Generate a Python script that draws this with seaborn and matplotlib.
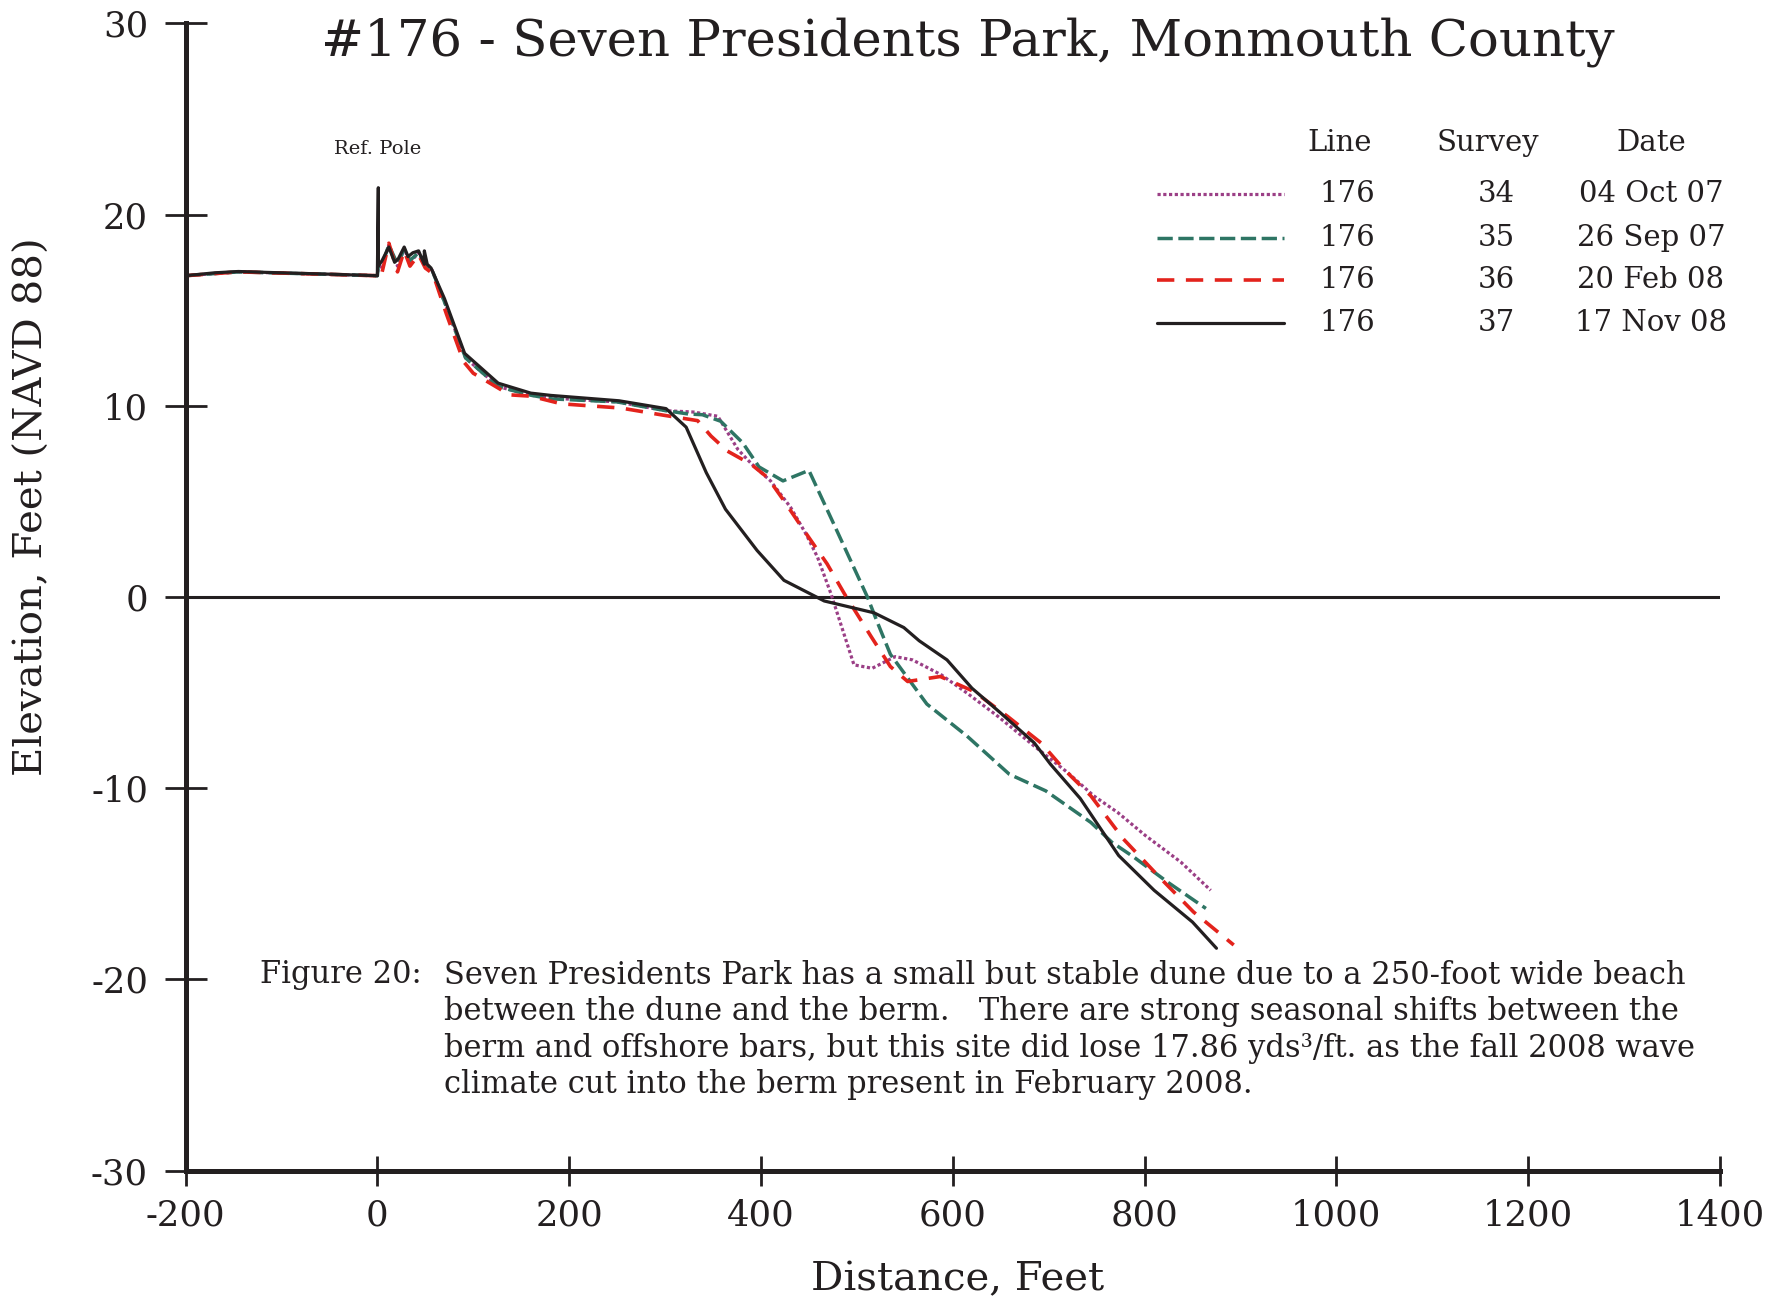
import numpy as np
import pandas as pd
import seaborn as sns
import matplotlib.pyplot as plt
from matplotlib.lines import Line2D

# profile data (distance ft, elevation ft NAVD88)
x_34 = [-200, -145, 0, 1, 5, 12, 21, 28, 34, 43, 50, 57, 71, 92, 126, 160, 181, 250, 301,
        330, 355, 376, 390, 410, 431, 447, 459, 473, 497, 516, 540, 558, 588, 615, 647,
        685, 720, 747, 772, 801, 838, 869]
y_34 = [16.8, 17.0, 16.8, 17.2, 17.3, 18.4, 17.3, 18.2, 17.5, 18.0, 17.4, 17.1, 15.3, 12.5,
        11.0, 10.55, 10.4, 10.2, 9.74, 9.67, 9.45, 7.71, 6.97, 6.07, 4.68, 3.29, 2.08, 0.17,
        -3.55, -3.73, -3.12, -3.29, -4.07, -5.03, -6.24, -7.8, -9.19, -10.4, -11.27, -12.48,
        -13.87, -15.34]

x_35 = [-200, -145, 0, 1, 5, 12, 21, 28, 34, 43, 50, 57, 71, 92, 126, 160, 181, 250, 301,
        324, 339, 358, 381, 398, 423, 450, 476, 511, 522, 535, 573, 615, 659, 697, 744, 766,
        789, 824, 864]
y_35 = [16.8, 17.0, 16.8, 17.3, 17.4, 18.4, 17.4, 18.2, 17.6, 18.0, 17.4, 17.1, 15.3, 12.5,
        11.0, 10.55, 10.36, 10.2, 9.74, 9.57, 9.53, 9.19, 8.06, 6.8, 6.07, 6.62, 3.81, 0.0,
        -1.4, -3.0, -5.6, -7.28, -9.27, -10.14, -11.79, -12.83, -13.61, -14.91, -16.29]

x_36 = [-200, -145, 0, 1, 5, 12, 21, 28, 34, 43, 50, 58, 72, 90, 100, 138, 160, 192, 254,
        299, 334, 348, 365, 390, 407, 424, 445, 469, 487, 515, 535, 553, 587, 622, 657, 692,
        716, 744, 778, 817, 851, 893]
y_36 = [16.8, 17.0, 16.8, 17.1, 17.0, 18.5, 17.0, 18.1, 17.3, 17.9, 17.2, 16.9, 14.8, 12.3,
        11.7, 10.57, 10.5, 10.1, 9.88, 9.5, 9.22, 8.41, 7.63, 6.93, 6.24, 5.03, 3.47, 1.73,
        0.17, -2.08, -3.64, -4.42, -4.16, -4.94, -6.24, -7.63, -9.01, -10.4, -12.66, -14.73,
        -16.47, -18.2]

x_37 = [-200, -170, -145, -100, -50, 0, 1, 1, 5, 12, 18, 22, 28, 32, 37, 43, 49, 49, 52, 56,
        70, 91, 126, 160, 181, 252, 301, 322, 343, 363, 396, 424, 466, 518, 549, 565, 594,
        620, 650, 685, 702, 733, 773, 810, 850, 875]
y_37 = [16.8, 16.95, 17.02, 16.95, 16.88, 16.8, 21.4, 17.3, 17.6, 18.3, 17.5, 17.7, 18.3,
        17.8, 18.0, 18.1, 17.4, 18.1, 17.4, 17.2, 15.6, 12.74, 11.18, 10.66, 10.54, 10.26,
        9.85, 8.88, 6.5, 4.59, 2.43, 0.87, -0.21, -0.83, -1.6, -2.29, -3.29, -4.77, -6.07,
        -7.63, -8.75, -10.54, -13.52, -15.34, -17.0, -18.37]

surveys = ["34", "35", "36", "37"]
dates = ["04 Oct 07", "26 Sep 07", "20 Feb 08", "17 Nov 08"]
line_no = "176"

caption = [
    "Seven Presidents Park has a small but stable dune due to a 250-foot wide beach",
    "between the dune and the berm.   There are strong seasonal shifts between the",
    "berm and offshore bars, but this site did lose 17.86 yds\u00b3/ft. as the fall 2008 wave",
    "climate cut into the berm present in February 2008.",
]

profiles = pd.concat(
    [
        pd.DataFrame({"distance": x, "elevation": y, "survey": s})
        for x, y, s in zip([x_34, x_35, x_36, x_37], [y_34, y_35, y_36, y_37], surveys)
    ],
    ignore_index=True,
)

colors = {"34": "#9b3f86", "35": "#2e7564", "36": "#e3231c", "37": "#231f20"}
dash_map = {"34": (1.0, 0.8), "35": (4.4, 1.6), "36": (4.8, 3.2), "37": ""}
widths = {"34": 2.3, "35": 2.5, "36": 2.6, "37": 2.3}
ink = "#231f20"

sns.set_style("ticks")
plt.rcParams["font.family"] = ["DejaVu Serif"]
plt.rcParams["axes.unicode_minus"] = False

fig = plt.figure(figsize=(17.86, 13.01), dpi=100)
ax = fig.add_axes([0.1039, 0.1002, 0.9630 - 0.1039, 0.9821 - 0.1002])

ax.axhline(0, color=ink, lw=2.2, zorder=1)

sns.lineplot(
    data=profiles,
    x="distance",
    y="elevation",
    hue="survey",
    style="survey",
    palette=colors,
    dashes=dash_map,
    sort=False,
    estimator=None,
    linewidth=2.3,
    legend=False,
    ax=ax,
)
# seaborn draws the surveys in order, so match widths line by line
for line, s in zip(ax.lines[1:], surveys):
    line.set_linewidth(widths[s])

ax.set_xlim(-200, 1400)
ax.set_ylim(-30, 30)
ax.set_xticks(np.arange(-200, 1401, 200))
ax.set_yticks(np.arange(-30, 31, 10))
sns.despine(ax=ax)
for side in ["left", "bottom"]:
    ax.spines[side].set_linewidth(3.6)
    ax.spines[side].set_color(ink)
ax.tick_params(axis="y", direction="inout", length=30, width=2, pad=12,
               labelsize=25.5, colors=ink)
ax.tick_params(axis="x", direction="inout", length=22, width=2, pad=9,
               labelsize=25.5, colors=ink)

ax.set_xlabel("Distance, Feet", fontsize=29, color=ink)
ax.xaxis.set_label_coords(0.503, -0.079)
ax.set_ylabel("Elevation, Feet (NAVD 88)", fontsize=29, color=ink, va="center")
ax.yaxis.set_label_coords(-0.100, 0.579)

fig.text(0.542, 0.968, "#176 - Seven Presidents Park, Monmouth County",
         fontsize=37, ha="center", va="center", color=ink)
ax.text(0, 23.4, "Ref. Pole", fontsize=14, ha="center", va="center", color=ink)

# legend laid out as a small table
ax.text(0.752, 0.896, "Line", transform=ax.transAxes, fontsize=21, ha="center", va="center", color=ink)
ax.text(0.849, 0.896, "Survey", transform=ax.transAxes, fontsize=21, ha="center", va="center", color=ink)
ax.text(0.955, 0.896, "Date", transform=ax.transAxes, fontsize=21, ha="center", va="center", color=ink)
row_y = [0.8516, 0.8129, 0.776, 0.7384]
for s, d, ry in zip(surveys, dates, row_y):
    sample = Line2D([0.633, 0.716], [ry, ry], transform=ax.transAxes, color=colors[s], lw=widths[s])
    if dash_map[s]:
        sample.set_dashes(dash_map[s])
    ax.add_line(sample)
    ax.text(0.757, ry, line_no, transform=ax.transAxes, fontsize=21, ha="center", va="center", color=ink)
    ax.text(0.854, ry, s, transform=ax.transAxes, fontsize=21, ha="center", va="center", color=ink)
    ax.text(0.955, ry, d, transform=ax.transAxes, fontsize=21, ha="center", va="center", color=ink)

# figure caption
cap_y = [975, 1011.5, 1048, 1084.5]
fig.text(0.1454, 1 - cap_y[0] / 1301, "Figure 20:", fontsize=22, ha="left", va="center", color=ink)
for line, cy in zip(caption, cap_y):
    fig.text(0.2487, 1 - cy / 1301, line, fontsize=22, ha="left", va="center", color=ink)

plt.savefig("out.png", dpi=100)
